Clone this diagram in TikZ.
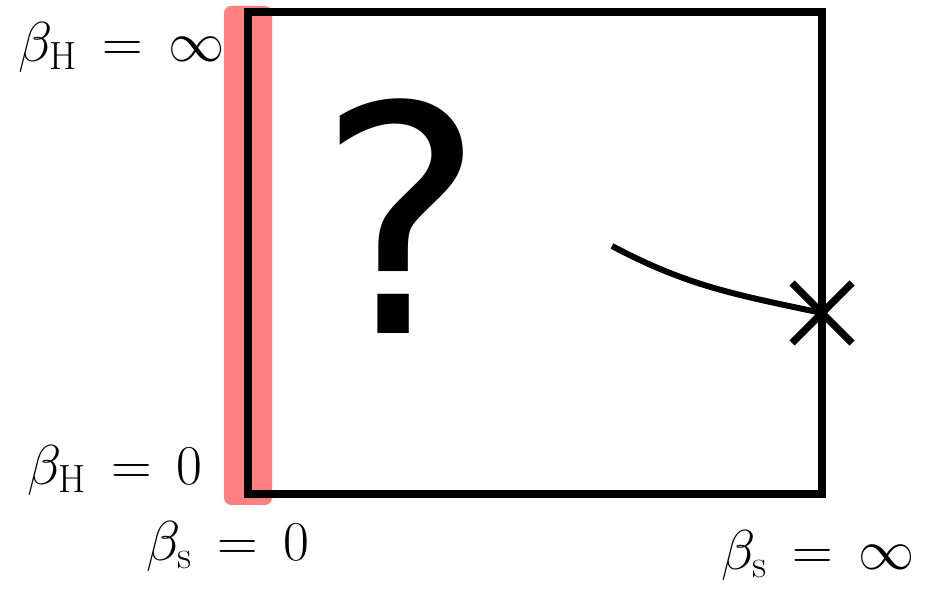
\RequirePackage{fix-cm}
\documentclass[tikz,border=0pt]{standalone}
\usepackage{fontspec}
\usetikzlibrary{calc}
\newfontfamily\qfont{DejaVu Sans}
\begin{document}
\begin{tikzpicture}[
        frame/.style={draw=black, line width=4.5pt},
        axisbar/.style={fill=red!50, rounded corners=4pt},
        limitlabel/.style={font=\fontsize{32}{38}\selectfont, inner sep=0pt},
        flowline/.style={line width=3.4pt},
        crossmark/.style={line width=4.2pt}
    ]
        \useasboundingbox (0,0) rectangle (18.5,11.78);
        % highlighted left edge
        \fill[axisbar] (4.48,1.68) rectangle (5.44,11.66);
        \draw[frame] (4.96,1.90) rectangle (16.44,11.54);

        \coordinate (flowstart) at (12.24,6.86);
        \coordinate (endpt) at (16.44,5.52);
        \draw[flowline] (flowstart) to[out=-28,in=168] (endpt);
        \draw[crossmark] ($(endpt)+(-0.6,-0.6)$) -- ($(endpt)+(0.6,0.6)$);
        \draw[crossmark] ($(endpt)+(-0.6,0.6)$) -- ($(endpt)+(0.6,-0.6)$);

        \node[inner sep=0pt, font=\qfont\fontsize{180}{180}\selectfont] (unknown) at (8.02,7.46) {?};

        \node[limitlabel, anchor=east] (hinf) at (4.50,10.84) {$\beta_{\mathrm{H}} \,=\, \infty$};
        \node[limitlabel, anchor=east] (hzero) at (4.06,2.38) {$\beta_{\mathrm{H}} \,=\, 0$};
        \node[limitlabel] (szero) at (4.56,0.86) {$\beta_{\mathrm{s}} \,=\, 0$};
        \node[limitlabel] (sinf) at (16.36,0.68) {$\beta_{\mathrm{s}} \,=\, \infty$};
    \end{tikzpicture}
\end{document}
